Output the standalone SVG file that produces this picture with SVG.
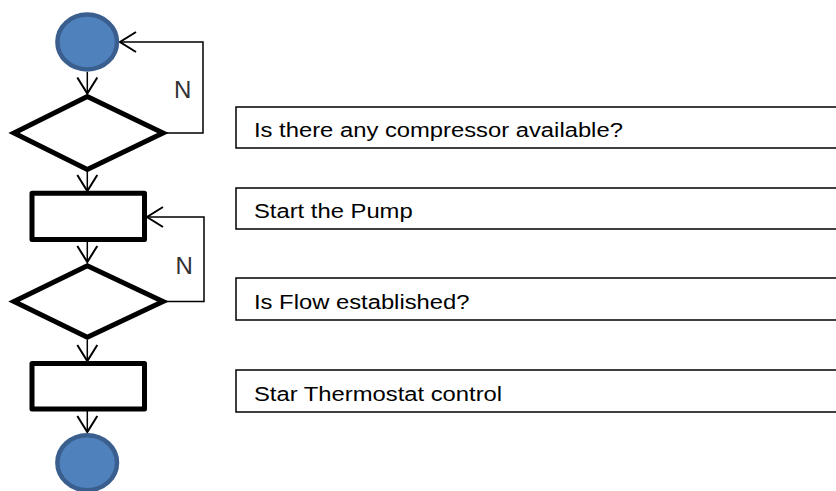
<svg xmlns="http://www.w3.org/2000/svg" width="836" height="491" viewBox="0 0 836 491">
  <style>
    .term { fill: #4f81bd; stroke: #3a5f8f; stroke-width: 4.5; }
    .shape { fill: #ffffff; stroke: #000000; stroke-width: 5; stroke-linejoin: miter; }
    .proc { fill: #ffffff; stroke: #000000; stroke-width: 5; stroke-linejoin: round; }
    .conn { fill: none; stroke: #000000; stroke-width: 1.5; }
    .box { fill: #ffffff; stroke: #000000; stroke-width: 1.5; }
    .lbl { font-family: "Liberation Sans", Arial, sans-serif; font-size: 20px; fill: #000000; }
    .n { font-family: "Liberation Sans", Arial, sans-serif; font-size: 24px; fill: #333333; }
  </style>
  <defs>
    <marker id="arr" markerUnits="userSpaceOnUse" viewBox="-19 -12 21 24" markerWidth="21" markerHeight="24" refX="0" refY="0" orient="auto">
      <path d="M-16,-10 L0,0 L-16,10" fill="none" stroke="#000000" stroke-width="2"/>
    </marker>
  </defs>

  <g id="connectors">
    <line class="conn" x1="87.3" y1="72" x2="87.3" y2="93.5" marker-end="url(#arr)"/>
    <line class="conn" x1="87.3" y1="171" x2="87.3" y2="191" marker-end="url(#arr)"/>
    <line class="conn" x1="87.3" y1="241" x2="87.3" y2="262" marker-end="url(#arr)"/>
    <line class="conn" x1="87.3" y1="340" x2="87.3" y2="361" marker-end="url(#arr)"/>
    <line class="conn" x1="87.3" y1="411" x2="87.3" y2="432" marker-end="url(#arr)"/>
    <polyline class="conn" points="166,133 203,133 203,42 120,42" marker-end="url(#arr)"/>
    <polyline class="conn" points="166,301.5 204,301.5 204,217 147,217" marker-end="url(#arr)"/>
  </g>

  <g id="start">
    <ellipse class="term" cx="87.2" cy="42" rx="29.8" ry="27.5"/>
  </g>
  <g id="decision1">
    <polygon class="shape" points="14,133 87.3,96.5 163,133 87.3,169.5"/>
  </g>
  <g id="process1">
    <rect class="proc" x="32" y="193.2" width="112.5" height="46.3"/>
  </g>
  <g id="decision2">
    <polygon class="shape" points="14,301.5 87.3,265.8 163,301.5 87.3,337.2"/>
  </g>
  <g id="process2">
    <rect class="proc" x="32" y="363.5" width="112.5" height="45.5"/>
  </g>
  <g id="end">
    <ellipse class="term" cx="87.2" cy="462.7" rx="29.8" ry="27.5"/>
  </g>

  <g id="label-n1"><text class="n" x="174" y="98">N</text></g>
  <g id="label-n2"><text class="n" x="175.5" y="274">N</text></g>

  <g id="note1">
    <rect class="box" x="236" y="107" width="620" height="41"/>
    <text class="lbl" transform="translate(254,137.3) scale(1.19,1)">Is there any compressor available?</text>
  </g>
  <g id="note2">
    <rect class="box" x="236" y="188" width="620" height="41"/>
    <text class="lbl" transform="translate(254,217.5) scale(1.19,1)">Start the Pump</text>
  </g>
  <g id="note3">
    <rect class="box" x="236" y="278" width="620" height="42"/>
    <text class="lbl" transform="translate(254,309.3) scale(1.19,1)">Is Flow established?</text>
  </g>
  <g id="note4">
    <rect class="box" x="236" y="370" width="620" height="42"/>
    <text class="lbl" transform="translate(254,401) scale(1.19,1)">Star Thermostat control</text>
  </g>
</svg>
